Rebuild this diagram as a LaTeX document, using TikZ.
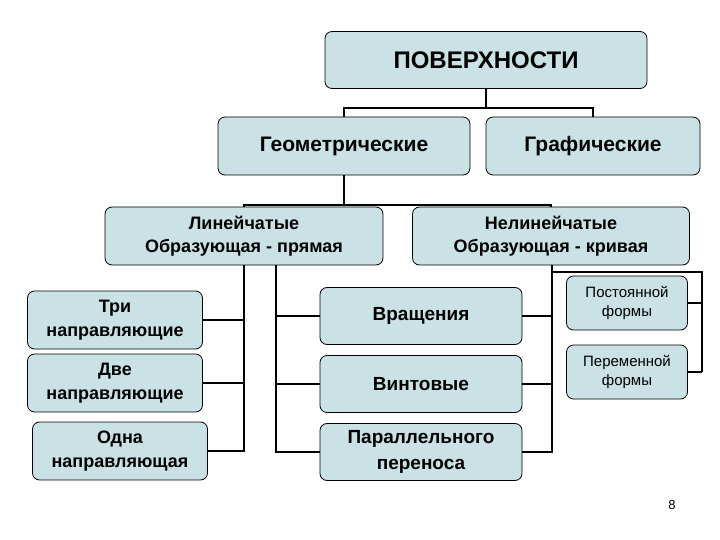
\documentclass[tikz,border=0pt]{standalone}
\usepackage{fontspec}
\setmainfont{Liberation Sans}
\definecolor{boxfill}{RGB}{202,225,229}
\begin{document}
\begin{tikzpicture}[x=1pt,y=-1pt,
  box/.style={draw=black,line width=0.8pt,fill=boxfill,rounded corners=7pt,inner sep=0pt,align=center,font=\bfseries},
  line/.style={line width=1.6pt}]
\useasboundingbox (0,0) rectangle (720,540);
\node[box,minimum width=322pt,minimum height=57pt,font=\bfseries\fontsize{24}{28}\selectfont] (pov) at (486,60) {ПОВЕРХНОСТИ};
\node[box,minimum width=252pt,minimum height=58pt,font=\bfseries\fontsize{21}{25}\selectfont] (geo) at (344,146) {Геометрические};
\node[box,minimum width=214pt,minimum height=58pt,font=\bfseries\fontsize{21}{25}\selectfont] (gra) at (593,146) {Графические};
\node[box,minimum width=278pt,minimum height=58pt,font=\bfseries\fontsize{18}{23}\selectfont] (lin) at (244,236) {Линейчатые\\Образующая - прямая};
\node[box,minimum width=277pt,minimum height=58pt,font=\bfseries\fontsize{18}{23}\selectfont] (nlin) at (551,236) {Нелинейчатые\\Образующая - кривая};
\tikzset{small/.style={box,minimum width=175pt,minimum height=58pt,font=\bfseries\fontsize{18}{24}\selectfont}}
\node[small] (tri) at (115,320) {Три\\направляющие};
\node[small] (dve) at (115,383) {Две\\направляющие};
\node[small] (odna) at (120,451) {Одна\\направляющая};
\tikzset{mid/.style={box,minimum width=202pt,minimum height=57pt,font=\bfseries\fontsize{19}{26}\selectfont}}
\node[mid] (vra) at (421,316) {Вращения};
\node[mid] (vin) at (421,384) {Винтовые};
\node[mid] (par) at (421,452) {Параллельного\\переноса};
\tikzset{form/.style={box,minimum width=121pt,minimum height=54pt,font=\fontsize{15}{19}\selectfont}}
\node[form] (post) at (627,303) {Постоянной\\формы};
\node[form] (pere) at (627,372) {Переменной\\формы};
\node[font=\fontsize{13}{15}\selectfont] (num) at (672,505) {8};
% connectors
\draw[line] (pov.south) -- (486,108) coordinate (t1);
\draw[line] (geo.north) |- (t1) -| (gra.north);
\draw[line] (geo.south) -- (344,205) coordinate (t2);
\draw[line] (lin.north) |- (t2) -| (nlin.north);
\draw[line] (tri.east) -| (244,265) ;
\draw[line] (dve.east) -- (244,383);
\draw[line] (odna.east) -| (lin.south);
\draw[line] (vra.west) -| (276,265);
\draw[line] (vin.west) -- (276,384);
\draw[line] (par.west) -| (276,265);
\draw[line] (vra.east) -| (552,265);
\draw[line] (vin.east) -- (552,384);
\draw[line] (par.east) -| (552,265);
\draw[line] (552,272) -| (702,372) coordinate (t3);
\draw[line] (post.east) -- (702,303);
\draw[line] (pere.east) -- (t3);
\end{tikzpicture}
\end{document}
